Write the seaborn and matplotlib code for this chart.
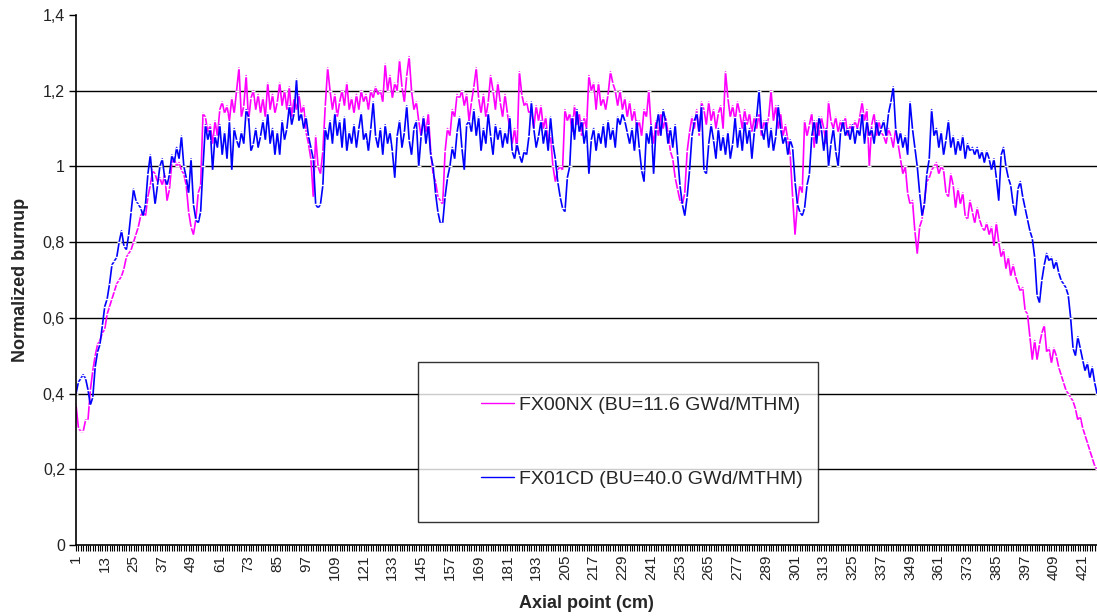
import numpy as np
import pandas as pd
import matplotlib
matplotlib.use("Agg")
import matplotlib.pyplot as plt
import seaborn as sns
from matplotlib.ticker import FixedLocator, FuncFormatter
from matplotlib.lines import Line2D
from matplotlib.legend_handler import HandlerLine2D

# ---------------- data ----------------
series_names = ["FX00NX (BU=11.6 GWd/MTHM)", "FX01CD (BU=40.0 GWd/MTHM)"]
series_colors = ["#FF00FF", "#0000FF"]

fx00nx = [
    0.37, 0.31, 0.30, 0.30, 0.33, 0.33, 0.41, 0.46, 0.50, 0.53,
    0.54, 0.56, 0.57, 0.61, 0.63, 0.65, 0.67, 0.69, 0.70, 0.71,
    0.73, 0.76, 0.77, 0.78, 0.80, 0.82, 0.84, 0.87, 0.88, 0.87,
    0.92, 0.95, 0.99, 0.98, 0.96, 0.97, 0.95, 0.98, 0.91, 0.94,
    1.01, 1.02, 1.00, 1.01, 0.99, 0.98, 0.95, 0.88, 0.84, 0.82,
    0.86, 0.93, 0.95, 1.14, 1.13, 1.09, 1.11, 1.06, 1.12, 1.08,
    1.15, 1.17, 1.14, 1.16, 1.12, 1.18, 1.14, 1.20, 1.26, 1.13,
    1.16, 1.24, 1.12, 1.18, 1.20, 1.15, 1.19, 1.14, 1.18, 1.13,
    1.22, 1.15, 1.19, 1.14, 1.17, 1.22, 1.16, 1.20, 1.15, 1.21,
    1.13, 1.18, 1.15, 1.19, 1.14, 1.16, 1.09, 1.06, 1.02, 0.92,
    1.08, 1.00, 0.98, 1.04, 1.16, 1.26, 1.20, 1.15, 1.19, 1.13,
    1.17, 1.20, 1.16, 1.22, 1.15, 1.18, 1.14, 1.19, 1.15, 1.20,
    1.17, 1.19, 1.15, 1.20, 1.18, 1.21, 1.19, 1.20, 1.17, 1.27,
    1.20, 1.24, 1.18, 1.22, 1.20, 1.28, 1.21, 1.17, 1.24, 1.29,
    1.20, 1.15, 1.17, 1.12, 1.08, 1.13, 1.09, 1.14, 1.04, 0.98,
    0.96, 0.92, 0.91, 0.90, 1.04, 1.10, 1.08, 1.15, 1.13, 1.19,
    1.18, 1.20, 1.16, 1.19, 1.12, 1.17, 1.21, 1.26, 1.18, 1.14,
    1.19, 1.13, 1.17, 1.24, 1.20, 1.15, 1.22, 1.17, 1.13, 1.19,
    1.14, 1.10, 1.06, 1.10, 1.04, 1.25, 1.19, 1.16, 1.17, 1.14,
    1.15, 1.10, 1.16, 1.12, 1.16, 1.10, 1.13, 1.06, 1.08, 1.00,
    0.96, 0.99, 1.00, 0.99, 1.15, 1.12, 1.14, 1.09, 1.16, 1.11,
    1.14, 1.08, 1.13, 1.10, 1.24, 1.20, 1.22, 1.15, 1.22, 1.16,
    1.18, 1.15, 1.19, 1.25, 1.22, 1.20, 1.16, 1.20, 1.15, 1.18,
    1.13, 1.17, 1.12, 1.15, 1.10, 1.12, 1.08, 1.15, 1.13, 1.20,
    1.10, 1.06, 1.12, 1.08, 1.14, 1.10, 1.13, 1.09, 1.04, 1.02,
    0.97, 0.94, 0.91, 0.90, 0.93, 1.04, 1.09, 1.13, 1.10, 1.15,
    1.08, 1.17, 1.15, 1.11, 1.17, 1.12, 1.15, 1.10, 1.14, 1.16,
    1.10, 1.25, 1.18, 1.13, 1.16, 1.12, 1.17, 1.14, 1.10, 1.15,
    1.11, 1.14, 1.09, 1.13, 1.10, 1.14, 1.08, 1.12, 1.10, 1.13,
    1.20, 1.12, 1.16, 1.10, 1.14, 1.08, 1.11, 1.07, 1.03, 0.92,
    0.82, 0.90, 0.95, 0.93, 1.12, 1.08, 1.11, 1.14, 1.05, 1.12,
    1.08, 1.13, 1.10, 1.06, 1.17, 1.12, 1.10, 1.13, 1.09, 1.12,
    1.10, 1.13, 1.08, 1.11, 1.09, 1.12, 1.10, 1.13, 1.17, 1.12,
    1.15, 1.00, 1.11, 1.14, 1.08, 1.12, 1.09, 1.08, 1.06, 1.10,
    1.08, 1.05, 1.10, 1.06, 1.02, 0.98, 1.00, 0.93, 0.90, 0.91,
    0.83, 0.77, 0.84, 0.86, 0.91, 0.96, 0.97, 0.99, 1.00, 1.01,
    0.98, 1.00, 0.99, 0.93, 0.92, 0.98, 0.95, 0.89, 0.94, 0.90,
    0.93, 0.87, 0.86, 0.91, 0.88, 0.85, 0.89, 0.86, 0.84, 0.83,
    0.85, 0.82, 0.84, 0.79, 0.85, 0.80, 0.76, 0.78, 0.73, 0.76,
    0.71, 0.74, 0.71, 0.69, 0.67, 0.68, 0.62, 0.61, 0.55, 0.49,
    0.54, 0.49, 0.53, 0.56, 0.58, 0.51, 0.52, 0.48, 0.52, 0.50,
    0.47, 0.45, 0.43, 0.41, 0.40, 0.39, 0.38, 0.36, 0.33, 0.34,
    0.31, 0.29, 0.27, 0.25, 0.23, 0.21, 0.20,
]

fx01cd = [
    0.40, 0.43, 0.44, 0.45, 0.44, 0.41, 0.37, 0.39, 0.47, 0.51,
    0.53, 0.58, 0.63, 0.65, 0.69, 0.74, 0.75, 0.76, 0.80, 0.83,
    0.79, 0.78, 0.82, 0.88, 0.94, 0.91, 0.90, 0.89, 0.87, 0.90,
    0.98, 1.03, 0.96, 0.90, 0.95, 1.00, 1.02, 0.97, 0.95, 0.98,
    1.03, 1.01, 1.05, 1.02, 1.08, 1.00, 0.97, 0.93, 1.02, 0.90,
    0.86, 0.85, 0.88, 1.00, 1.11, 1.07, 1.10, 0.99, 1.08, 1.05,
    1.11, 1.03, 1.09, 1.02, 1.12, 0.99, 1.10, 1.07, 1.05, 1.09,
    1.06, 1.15, 1.13, 1.04, 1.06, 1.10, 1.05, 1.08, 1.12, 1.07,
    1.14, 1.06, 1.10, 1.03, 1.09, 1.03, 1.12, 1.07, 1.10, 1.16,
    1.11, 1.14, 1.23, 1.12, 1.14, 1.10, 1.13, 1.08, 1.05, 1.02,
    0.90, 0.89, 0.90, 0.95, 1.10, 1.07, 1.12, 1.06, 1.14, 1.08,
    1.12, 1.05, 1.13, 1.04, 1.09, 1.06, 1.11, 1.05, 1.10, 1.14,
    1.07, 1.09, 1.04, 1.10, 1.17, 1.08, 1.05, 1.10, 1.03, 1.11,
    1.06, 1.09, 1.04, 0.97, 1.08, 1.12, 1.05, 1.09, 1.16, 1.07,
    1.03, 1.10, 1.12, 1.00, 1.08, 1.13, 1.06, 1.11, 1.03, 1.00,
    0.93, 0.88, 0.85, 0.85, 0.92, 0.97, 1.00, 1.05, 1.02, 1.09,
    1.13, 1.05, 0.99, 1.11, 1.12, 1.09, 1.15, 1.08, 1.13, 1.04,
    1.10, 1.06, 1.14, 1.08, 1.03, 1.11, 1.07, 1.10, 1.05, 1.09,
    1.06, 1.13, 1.04, 1.02, 1.06, 1.03, 1.01, 1.04, 1.03, 1.08,
    1.17, 1.10, 1.05, 1.08, 1.12, 1.06, 1.10, 1.04, 1.13, 1.06,
    1.02, 0.96, 0.92, 0.89, 0.88, 0.97, 1.00, 1.13, 1.07, 1.15,
    1.09, 1.12, 1.06, 1.10, 0.98, 1.07, 1.10, 1.04, 1.09, 1.06,
    1.11, 1.05, 1.12, 1.07, 1.10, 1.05, 1.13, 1.11, 1.14, 1.12,
    1.09, 1.06, 1.10, 1.04, 1.12, 1.05, 0.99, 0.96, 1.09, 1.06,
    1.11, 0.98, 1.10, 1.14, 1.08, 1.15, 1.12, 1.06, 1.10, 1.05,
    1.11, 1.03, 0.95, 0.90, 0.87, 0.92, 0.99, 1.08, 1.12, 1.14,
    1.09, 1.16, 0.99, 0.98, 1.06, 1.11, 1.07, 1.02, 1.10, 1.04,
    1.08, 1.03, 1.09, 1.02, 1.06, 1.13, 1.05, 1.10, 1.04, 1.12,
    1.06, 1.10, 1.02, 1.09, 1.13, 1.20, 1.10, 1.07, 1.12, 1.05,
    1.10, 1.04, 1.08, 1.16, 1.10, 1.06, 1.08, 1.03, 1.07, 1.05,
    0.96, 0.90, 0.88, 0.87, 0.89, 0.95, 0.98, 1.08, 1.12, 1.06,
    1.13, 1.10, 1.04, 1.10, 1.00, 1.06, 1.10, 1.04, 1.00, 1.09,
    1.12, 1.08, 1.10, 1.07, 1.11, 1.06, 1.10, 1.08, 1.14, 1.06,
    1.12, 1.08, 1.10, 1.06, 1.12, 1.08, 1.10, 1.12, 1.08, 1.14,
    1.17, 1.21, 1.10, 1.06, 1.09, 1.05, 1.08, 1.03, 1.17, 1.10,
    1.05, 1.00, 0.93, 0.87, 0.90, 0.98, 1.02, 1.15, 1.08, 1.10,
    1.05, 1.09, 1.03, 1.07, 1.12, 1.05, 1.08, 1.03, 1.07, 1.04,
    1.08, 1.02, 1.06, 1.04, 1.05, 1.03, 1.05, 1.02, 1.04, 1.01,
    1.04, 1.02, 0.99, 1.02, 0.97, 0.91, 1.03, 1.05, 1.00, 0.97,
    0.95, 0.90, 0.87, 0.94, 0.96, 0.92, 0.89, 0.86, 0.83, 0.81,
    0.76, 0.66, 0.64, 0.70, 0.74, 0.77, 0.75, 0.76, 0.73, 0.75,
    0.72, 0.70, 0.69, 0.68, 0.66, 0.60, 0.52, 0.50, 0.55, 0.52,
    0.49, 0.46, 0.48, 0.44, 0.47, 0.43, 0.40,
]

axial_points = list(range(1, len(fx00nx) + 1))
y_ticks = [0.0, 0.2, 0.4, 0.6, 0.8, 1.0, 1.2, 1.4]
y_tick_labels = ["0", "0,2", "0,4", "0,6", "0,8", "1", "1,2", "1,4"]
grid_levels = [0.2, 0.4, 0.6, 0.8, 1.0, 1.2]
x_label_step = 12
x_title = "Axial point (cm)"
y_title = "Normalized burnup"

# ---------------- style ----------------
sns.set_style("white")
plt.rcParams["font.family"] = ["Liberation Sans", "DejaVu Sans"]

W, H = 1097, 616
fig = plt.figure(figsize=(W / 100, H / 100), dpi=100)
ax = fig.add_axes([76 / W, 1 - 545 / H, 1 - 76 / W, 530 / H])

df = pd.DataFrame({
    "point": axial_points * 2,
    "value": fx00nx + fx01cd,
    "series": [series_names[0]] * len(fx00nx) + [series_names[1]] * len(fx01cd),
})

sns.lineplot(data=df, x="point", y="value", hue="series",
             hue_order=series_names, palette=series_colors,
             estimator=None, sort=False, linewidth=1.2,
             marker="_", markersize=3, markeredgewidth=1.0,
             legend=False, ax=ax)

for y in grid_levels:
    ax.axhline(y, color="black", lw=1.0, zorder=0)

ax.set_ylim(0, 1.4)
ax.set_xlim(1, len(axial_points))
ax.set_yticks(y_ticks)
ax.set_yticklabels(y_tick_labels, fontsize=11.5, color="#222222")
ax.xaxis.set_major_locator(FixedLocator(axial_points))
ax.xaxis.set_major_formatter(FuncFormatter(
    lambda v, p: str(int(round(v))) if (int(round(v)) - 1) % x_label_step == 0 else ""))
ax.tick_params(axis="x", length=4, width=0.8, color="black", labelsize=11,
               labelrotation=90, pad=3, labelcolor="#222222", direction="out", bottom=True)
ax.tick_params(axis="y", length=5, width=1, color="black", direction="out", left=True, pad=3)

for s in ["top", "right"]:
    ax.spines[s].set_visible(False)
for s in ["left", "bottom"]:
    ax.spines[s].set_color("black")
    ax.spines[s].set_linewidth(1.2)

ax.set_xlabel(x_title, fontsize=13, fontweight="bold", labelpad=11)
ax.set_ylabel(y_title, fontsize=13, fontweight="bold", labelpad=10)


class ShortLineHandler(HandlerLine2D):
    """Draw the legend line only over the right part of the handle box."""
    def create_artists(self, legend, orig_handle, xdescent, ydescent,
                       width, height, fontsize, trans):
        artists = super().create_artists(legend, orig_handle, xdescent, ydescent,
                                         width, height, fontsize, trans)
        for a in artists:
            xd = np.asarray(a.get_xdata(), dtype=float)
            if xd.size >= 2:
                x0, x1 = xd.min(), xd.max()
                a.set_xdata(np.linspace(x0 + 0.47 * (x1 - x0), x1, xd.size))
        return artists


handles = [Line2D([], [], color=c, lw=1.0) for c in series_colors]
leg = ax.legend(handles, series_names, loc="lower left",
                bbox_to_anchor=((418 - 76) / 1021, (545 - 522) / 530,
                                (818 - 418) / 1021, (522 - 362) / 530),
                mode="expand", fontsize=14, labelspacing=2.9, handlelength=3.2,
                handletextpad=0.25, borderpad=1.75, frameon=True, fancybox=False,
                borderaxespad=0,
                handler_map={Line2D: ShortLineHandler()})
leg.get_frame().set_edgecolor("black")
leg.get_frame().set_linewidth(1.0)

fig.savefig("out.png", dpi=100)
